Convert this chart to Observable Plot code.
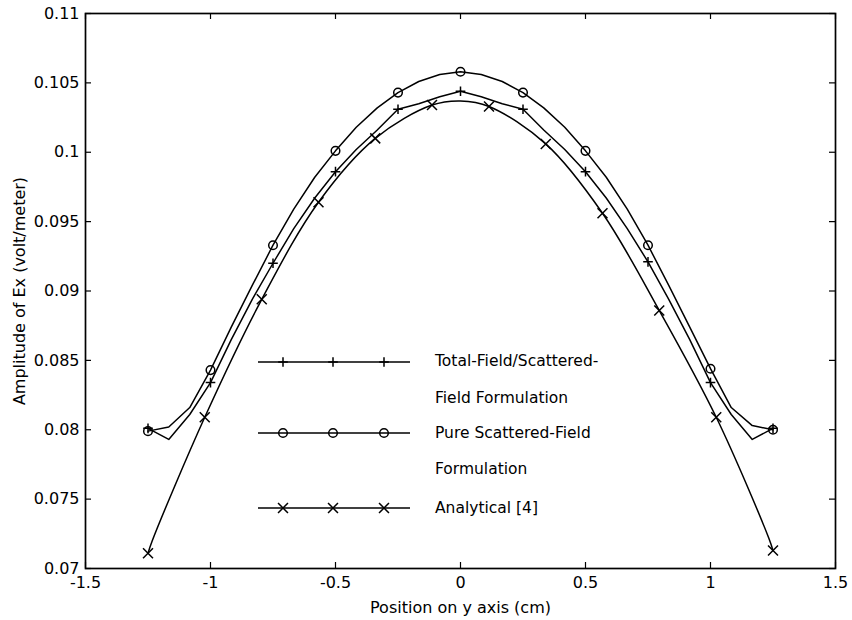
<!DOCTYPE html>
<html><head><meta charset="utf-8">
<script src="https://cdn.jsdelivr.net/npm/d3@7"></script>
<script src="https://cdn.jsdelivr.net/npm/@observablehq/plot@0.6"></script>
<style>body{margin:0;background:#fff}</style>
</head><body><div id="chart"></div>
<script>
// ---- data ----
const xFine = [-1.25,-1.167,-1.083,-1,-0.917,-0.833,-0.75,-0.667,-0.583,-0.5,-0.417,-0.333,-0.25,-0.167,-0.083,0,
               0.083,0.167,0.25,0.333,0.417,0.5,0.583,0.667,0.75,0.833,0.917,1,1.083,1.167,1.25];
const totalField = [0.0801,0.0793,0.0811,0.0834,0.0865,0.0894,0.0920,0.0945,0.0967,0.0986,0.1002,0.1016,0.1031,0.1035,0.1040,0.1044,
                    0.1040,0.1035,0.1031,0.1016,0.1002,0.0986,0.0967,0.0945,0.0921,0.0894,0.0865,0.0834,0.0811,0.0793,0.0801];
const pureScattered = [0.0799,0.0802,0.0816,0.0843,0.0874,0.0904,0.0933,0.0959,0.0982,0.1001,0.1018,0.1032,0.1043,0.1051,0.1056,0.1058,
                       0.1056,0.1051,0.1043,0.1032,0.1018,0.1001,0.0982,0.0959,0.0933,0.0904,0.0874,0.0844,0.0816,0.0803,0.0800];
const xAnalytic = [-1.25,-1.023,-0.795,-0.568,-0.341,-0.114,0.114,0.341,0.568,0.795,1.023,1.25];
const analytic  = [0.0711,0.0809,0.0894,0.0964,0.1010,0.1034,0.1033,0.1006,0.0956,0.0886,0.0809,0.0713];
const xAnalyticLine = [-1.25,-1.233,-1.023,-0.795,-0.568,-0.341,-0.114,0,0.114,0.341,0.568,0.795,1.023,1.233,1.25];
const analyticLine  = [0.0711,0.0720,0.0809,0.0894,0.0964,0.1010,0.1034,0.1037,0.1033,0.1006,0.0956,0.0886,0.0809,0.0722,0.0713];
const xTicks = [-1.5,-1,-0.5,0,0.5,1,1.5];
const yTicks = [0.07,0.075,0.08,0.085,0.09,0.095,0.1,0.105,0.11];
const legendLabels = [["Total-Field/Scattered-","Field Formulation"],["Pure Scattered-Field","Formulation"],["Analytical [4]"]];

// ---- build ----
const pts = (xs, ys) => xs.map((x, i) => ({x, y: ys[i]}));
const tf = pts(xFine, totalField), ps = pts(xFine, pureScattered);
const an = pts(xAnalytic, analytic), anLine = pts(xAnalyticLine, analyticLine);
const every3 = a => a.filter((d, i) => i % 3 === 0);
const fmtY = d => String(+d.toFixed(3));
const fmtX = d => String(+d.toFixed(1));
const FONT = "'DejaVu Sans', Verdana, sans-serif";
const R = {circle: 4.3, plus: 3.2, times: 4.6};
const W = 852, H = 620, ML = 85, MR = 17, MT = 13, MB = 52, TICK = 6;
const innerW = W - ML - MR, innerH = H - MT - MB;

const plot = Plot.plot({
  width: W, height: H,
  marginLeft: ML, marginRight: MR, marginTop: MT, marginBottom: MB,
  style: {fontFamily: FONT, fontSize: "16px", color: "black", background: "white"},
  x: {domain: [-1.5, 1.5]},
  y: {domain: [0.07, 0.11]},
  marks: [
    Plot.axisX(xTicks, {anchor: "bottom", tickSize: 0, tickPadding: 8, tickFormat: fmtX,
      label: "Position on y axis (cm)", labelAnchor: "center", labelArrow: "none", labelOffset: 44}),
    Plot.axisY(yTicks, {anchor: "left", tickSize: 0, tickPadding: 6, tickFormat: fmtY,
      label: "Amplitude of Ex (volt/meter)", labelAnchor: "center", labelArrow: "none", labelOffset: 72}),
    // inward tick marks on all four sides
    Plot.tickX(xTicks, {x: d => d, insetTop: innerH - TICK, stroke: "black", strokeWidth: 1.2}),
    Plot.tickX(xTicks, {x: d => d, insetBottom: innerH - TICK, stroke: "black", strokeWidth: 1.2}),
    Plot.tickY(yTicks, {y: d => d, insetRight: innerW - TICK, stroke: "black", strokeWidth: 1.2}),
    Plot.tickY(yTicks, {y: d => d, insetLeft: innerW - TICK, stroke: "black", strokeWidth: 1.2}),
    Plot.frame({stroke: "black", strokeWidth: 1.7}),
    Plot.line(ps, {x: "x", y: "y", stroke: "black", strokeWidth: 1.5}),
    Plot.line(tf, {x: "x", y: "y", stroke: "black", strokeWidth: 1.5}),
    Plot.line(anLine, {x: "x", y: "y", stroke: "black", strokeWidth: 1.5, curve: "catmull-rom"}),
    Plot.dot(every3(ps), {x: "x", y: "y", symbol: "circle", r: R.circle, stroke: "black", fill: "none", strokeWidth: 1.5}),
    Plot.dot(every3(tf), {x: "x", y: "y", symbol: "plus", r: R.plus, stroke: "black", strokeWidth: 1.5}),
    Plot.dot(an, {x: "x", y: "y", symbol: "times", r: R.times, stroke: "black", strokeWidth: 1.5})
  ]
});
document.getElementById("chart").appendChild(plot);

// ---- legend (layout in pixels) ----
const svg = d3.select(plot);
const lg = svg.append("g").attr("font-family", FONT).attr("font-size", "15.5px")
  .attr("fill", "black").attr("text-anchor", "start");
const rows = [
  {y: 362, sym: d3.symbolPlus, r: R.plus},
  {y: 433, sym: d3.symbolCircle, r: R.circle},
  {y: 508, sym: d3.symbolTimes, r: R.times}
];
const textRows = [[361, 398], [433, 469], [508]];
rows.forEach((row, i) => {
  lg.append("line").attr("x1", 258).attr("x2", 410).attr("y1", row.y).attr("y2", row.y)
    .attr("stroke", "black").attr("stroke-width", 1.5);
  [283, 333, 384].forEach(mx => {
    lg.append("path").attr("d", d3.symbol(row.sym, Math.PI * row.r * row.r)())
      .attr("transform", `translate(${mx},${row.y})`)
      .attr("stroke", "black").attr("stroke-width", 1.5).attr("fill", "none");
  });
  legendLabels[i].forEach((t, j) => {
    lg.append("text").attr("x", 435).attr("y", textRows[i][j]).attr("dy", "0.35em").text(t);
  });
});
</script>
</body></html>
